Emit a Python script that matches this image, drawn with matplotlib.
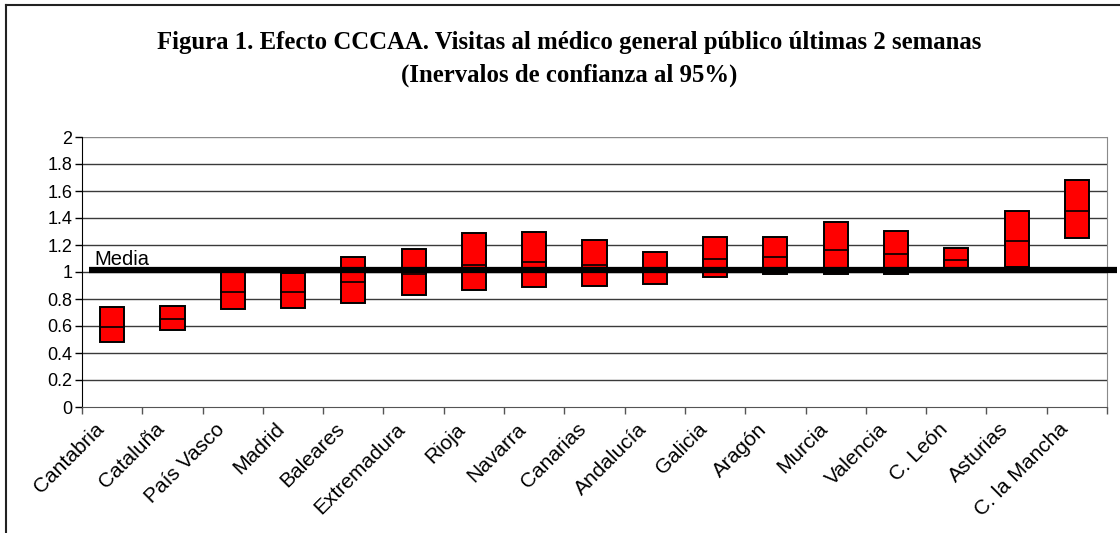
import matplotlib.pyplot as plt
import matplotlib.transforms as mtransforms
from matplotlib.lines import Line2D
from matplotlib.patches import Rectangle

# Comunidades autónomas y sus intervalos de confianza
regiones = ["Cantabria", "Cataluña", "País Vasco", "Madrid", "Baleares",
            "Extremadura", "Rioja", "Navarra", "Canarias", "Andalucía",
            "Galicia", "Aragón", "Murcia", "Valencia", "C. León",
            "Asturias", "C. la Mancha"]
superior = [0.74, 0.75, 1.00, 0.99, 1.11, 1.17, 1.29, 1.30, 1.24, 1.15,
            1.26, 1.26, 1.37, 1.30, 1.18, 1.45, 1.685]
estimacion = [0.595, 0.655, 0.855, 0.855, 0.925, 0.985, 1.055, 1.075, 1.055, 1.02,
              1.10, 1.11, 1.16, 1.135, 1.09, 1.23, 1.45]
inferior = [0.48, 0.57, 0.725, 0.735, 0.77, 0.83, 0.865, 0.89, 0.90, 0.91,
            0.96, 0.985, 0.985, 0.985, 1.03, 1.04, 1.25]
media = 1.015
yticks = [0, 0.2, 0.4, 0.6, 0.8, 1, 1.2, 1.4, 1.6, 1.8, 2]
ytick_labels = ["0", "0.2", "0.4", "0.6", "0.8", "1", "1.2", "1.4", "1.6", "1.8", "2"]

plt.rcParams["font.family"] = ["Liberation Sans", "DejaVu Sans"]

fig = plt.figure(figsize=(11.2, 5.33), dpi=100)
ax = fig.add_axes([82 / 1120, 1 - 407 / 533, (1107 - 82) / 1120, (407 - 137) / 533])

n = len(regiones)
ax.set_xlim(-0.5, n - 0.5)
ax.set_ylim(0, 2)

# rejilla horizontal
for y in yticks[1:]:
    ax.axhline(y, color="#3a3a3a" if y < 2 else "#8a8a8a", lw=1, zorder=1)

# cajas de los intervalos
ancho = 0.4
for i in range(n):
    ax.add_patch(Rectangle((i - ancho / 2, inferior[i]), ancho, superior[i] - inferior[i],
                           facecolor="#FF0000", edgecolor="black", lw=1.4, zorder=3))
    ax.plot([i - ancho / 2, i + ancho / 2], [estimacion[i], estimacion[i]],
            color="black", lw=1.2, zorder=4)

# línea de la media
ax.plot([-0.385, n - 0.34], [media, media], color="black", lw=4.5,
        zorder=5, clip_on=False, solid_capstyle="butt")
ax.text(-0.29, media + 0.01, "Media", fontsize=14.5, ha="left", va="bottom", zorder=6)

# ejes
ax.set_yticks(yticks)
ax.set_yticklabels(ytick_labels, fontsize=13)
ax.tick_params(axis="y", length=5, width=1, pad=2)

ax.set_xticks([i - 0.5 for i in range(n + 1)])
ax.set_xticklabels([])
ax.tick_params(axis="x", which="major", length=5, width=1, color="#555555")
ax.set_xticks(range(n), minor=True)
ax.set_xticklabels(regiones, minor=True, rotation=45, ha="right",
                   rotation_mode="anchor", fontsize=15)
ax.tick_params(axis="x", which="minor", length=0, pad=9)
desplazar = mtransforms.ScaledTranslation(-18 / 100, 0, fig.dpi_scale_trans)
for lbl in ax.get_xticklabels(minor=True):
    lbl.set_transform(lbl.get_transform() + desplazar)

ax.spines["top"].set_visible(False)
ax.spines["right"].set_color("#8a8a8a")
ax.spines["left"].set_color("black")
ax.spines["bottom"].set_color("#555555")

# título
fig.text(0.508, 1 - 42 / 533, "Figura 1. Efecto CCCAA. Visitas al médico general público últimas 2 semanas",
         ha="center", va="center", fontsize=17.8, fontweight="bold", family="Liberation Serif")
fig.text(0.508, 1 - 75 / 533, "(Inervalos de confianza al 95%)",
         ha="center", va="center", fontsize=17.8, fontweight="bold", family="Liberation Serif")

# borde del gráfico
fig.add_artist(Line2D([6 / 1120, 1], [1 - 5 / 533, 1 - 5 / 533], color="#222222", lw=1.5))
fig.add_artist(Line2D([6 / 1120, 6 / 1120], [0, 1 - 5 / 533], color="#222222", lw=1.5))

fig.savefig("out.png", dpi=100)
